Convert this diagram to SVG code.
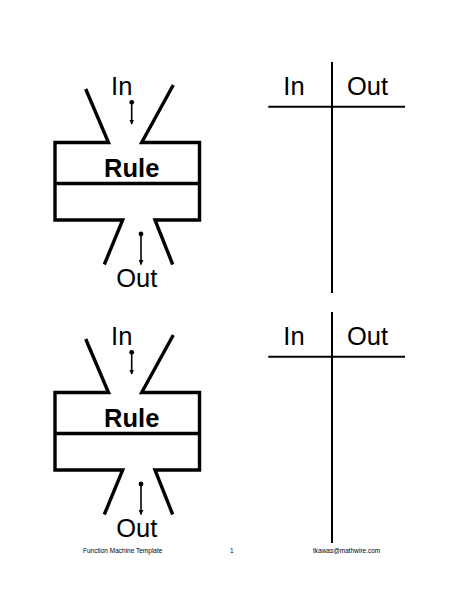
<svg xmlns="http://www.w3.org/2000/svg" width="464" height="600" viewBox="0 0 464 600">
<defs>
<style>
.m{fill:none;stroke:#000;stroke-width:3.4;stroke-linejoin:miter;stroke-linecap:butt}
.a{stroke:#000;stroke-width:1.6}
.t{fill:none;stroke:#000;stroke-width:2}
.lab{font-family:"Liberation Sans",Arial,sans-serif;font-size:25.5px;fill:#000;text-anchor:middle}
.rule{font-family:"Liberation Sans",Arial,sans-serif;font-size:25.5px;font-weight:bold;fill:#000;text-anchor:middle}
.ft{font-family:"Liberation Sans",Arial,sans-serif;font-size:6.5px;fill:#000}
</style>
<marker id="ah" viewBox="0 0 10 10" refX="9" refY="5" markerWidth="5" markerHeight="5" orient="auto" markerUnits="userSpaceOnUse">
<path d="M0,0 L10,5 L0,10 z" fill="#000"/>
</marker>
<g id="machineShape">
<path class="m" d="M85.7,89 L108.5,142.5 L55,142.5 L55,220 L122.7,220 L104.3,264.5"/>
<path class="m" d="M173.3,85 L141.7,142.5 L199.5,142.5 L199.5,220 L155,220 L172.7,264.5"/>
<line class="m" x1="55" y1="183.5" x2="199.5" y2="183.5"/>
<circle cx="131.7" cy="102.3" r="2.4" fill="#000"/>
<line class="a" x1="131.7" y1="102.3" x2="131.7" y2="124" marker-end="url(#ah)"/>
<circle cx="141" cy="234" r="2.4" fill="#000"/>
<line class="a" x1="141" y1="234" x2="141" y2="264.5" marker-end="url(#ah)"/>
<text class="lab" x="121.7" y="95">In</text>
<text class="rule" x="131.7" y="177">Rule</text>
<text class="lab" x="136.7" y="287">Out</text>
</g>
<g id="tableShape">
<line class="t" x1="332" y1="62" x2="332" y2="293"/>
<line class="t" x1="268.3" y1="106.7" x2="405" y2="106.7"/>
<text class="lab" x="294" y="94.5">In</text>
<text class="lab" x="367.5" y="94.5">Out</text>
</g>
</defs>
<g id="machine1"><use href="#machineShape"/></g>
<g id="table1"><use href="#tableShape"/></g>
<g id="machine2"><use href="#machineShape" y="250"/></g>
<g id="table2"><use href="#tableShape" y="250"/></g>
<g id="connectors"></g>
<g id="footer">
<text class="ft" x="83" y="553">Function Machine Template</text>
<text class="ft" x="231.7" y="553" text-anchor="middle">1</text>
<text class="ft" x="313" y="553">tkawas@mathwire.com</text>
</g>
</svg>
